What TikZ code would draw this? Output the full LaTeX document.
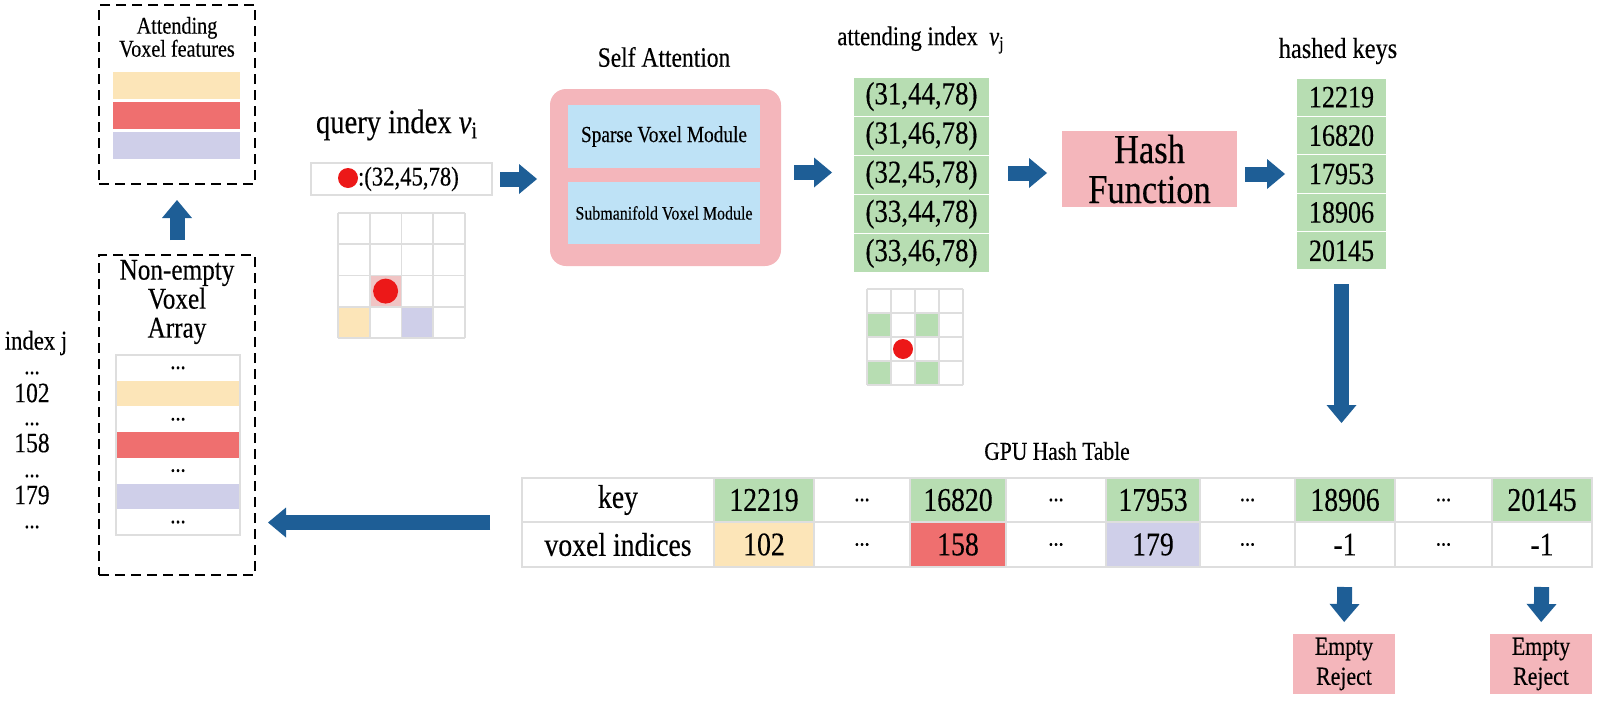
\documentclass[tikz,border=0pt]{standalone}
\usepackage{fontspec}
\setmainfont[FakeStretch=0.84,FakeBold=0.3]{Liberation Serif}
\usetikzlibrary{arrows.meta,calc,fit}
\definecolor{arrowblue}{RGB}{30,94,150}
\definecolor{vgreen}{RGB}{183,221,178}
\definecolor{vpink}{RGB}{244,182,187}
\definecolor{vblue}{RGB}{190,226,246}
\definecolor{vyellow}{RGB}{252,229,184}
\definecolor{vred}{RGB}{239,111,111}
\definecolor{vpurple}{RGB}{207,207,233}
\definecolor{gridgray}{RGB}{222,222,222}
\definecolor{dotred}{RGB}{236,24,24}
\definecolor{cellpink}{RGB}{240,196,196}
\newcommand\myfs[2]{\fontsize{#1}{#2}\selectfont}
\newcommand\tdots{{\myfs{9}{9}\textbf{…}}}
% \rbox[options]{name}{x1}{y1}{x2}{y2}{text}: rectangle node given by its corners (pixel units)
\newcommand\rbox[7][]{%
  \pgfmathsetmacro\rbcx{(#3+#5)/2}\pgfmathsetmacro\rbcy{(#4+#6)/2}%
  \pgfmathsetmacro\rbw{(#5-#3)*0.5}\pgfmathsetmacro\rbh{(#6-#4)*0.5}%
  \node[box,minimum width=\rbw pt,minimum height=\rbh pt,#1] (#2) at (\rbcx,\rbcy) {#7};}
\begin{document}
\begin{tikzpicture}[x=0.5pt,y=-0.5pt,
  box/.style={inner sep=0pt,outer sep=0pt},
  dashbox/.style={draw=black,line width=0.8pt,dash pattern=on 5pt off 3pt},
  gcell/.style={fill=vgreen,draw=white,line width=0.6pt},
  tcell/.style={draw=gridgray,line width=0.6pt,fill=#1},
  dot/.style={circle,fill=dotred,inner sep=0pt,minimum size=#1},
  gridline/.style={draw=gridgray,line width=0.8pt},
  blockarrow/.style={draw=arrowblue,line width=7.5pt,-{Triangle[length=9pt,width=15pt,line width=0pt]}},
  lbl/.style={box,align=center},
]
\useasboundingbox (0,0) rectangle (1600,702);

% ---------- Attending voxel features ----------
\rbox[dashbox]{attbox}{99}{5}{255}{184}{}
\node[lbl,font=\myfs{12}{11.5}] (atttitle) at (177,37) {Attending\\Voxel features};
\rbox[fill=vyellow]{attY}{113}{72}{240}{99}{}
\rbox[fill=vred]{attR}{113}{102}{240}{129}{}
\rbox[fill=vpurple]{attP}{113}{132}{240}{159}{}

% ---------- Non-empty voxel array ----------
\rbox[dashbox]{nebox}{99}{255}{255}{575}{}
\node[lbl,font=\myfs{15}{14.5}] (netitle) at (177,302) {Non-empty\\Voxel\\Array};
\foreach \i/\c/\t [evaluate=\i as \ya using 355+25.7*\i, evaluate=\i as \yb using 380.7+25.7*\i] in
  {0/white/\tdots,1/vyellow/{},2/white/\tdots,3/vred/{},4/white/\tdots,5/vpurple/{},6/white/\tdots}
  {\rbox[fill=\c]{ne\i}{116}{\ya}{240}{\yb}{\t}}
\rbox[draw=gridgray,line width=0.6pt]{nearr}{116}{355}{240}{535}{}

% index labels
\node[lbl,font=\myfs{13.5}{14}] (idxj) at (36,343) {index j};
\node[lbl] (ld0) at (32,373) {\tdots};
\node[lbl,font=\myfs{14}{14}] (l102) at (32,393) {102};
\node[lbl] (ld1) at (32,424) {\tdots};
\node[lbl,font=\myfs{14}{14}] (l158) at (32,443) {158};
\node[lbl] (ld2) at (32,476) {\tdots};
\node[lbl,font=\myfs{14}{14}] (l179) at (32,495) {179};
\node[lbl] (ld3) at (32,527) {\tdots};

% ---------- Query ----------
\node[lbl,font=\myfs{17}{17}] (qlabel) at (397,125) {query index \textit{ν}\textsubscript{i}};
\rbox[draw=gridgray,line width=0.8pt]{qbox}{311}{163}{492}{195}{}
\node[dot=10pt] (qdot) at (348,178) {};
\node[box,anchor=west,font=\myfs{13.5}{13.5}] (qtext) at (358,179) {:(32,45,78)};

\fill[vyellow] (338,306.75) rectangle (369.75,338);
\fill[vpurple] (401.5,306.75) rectangle (433.25,338);
\fill[cellpink] (369.75,275.5) rectangle (401.5,306.75);
\foreach \k in {0,...,4} {
  \draw[gridline] ({338+31.75*\k},213) -- ({338+31.75*\k},338);
  \draw[gridline] (338,{213+31.25*\k}) -- (465,{213+31.25*\k});
}
\node[dot=12.5pt] (gdot) at (385.6,291.1) {};

% ---------- Self attention ----------
\node[lbl,font=\myfs{14}{14}] (satitle) at (664,57) {Self Attention};
\rbox[fill=vpink,rounded corners=8pt]{sa}{550}{89}{781}{266}{}
\rbox[fill=vblue,font=\myfs{11.5}{12}]{sparse}{568}{105}{760}{168}{Sparse Voxel Module}
\rbox[fill=vblue,font=\myfs{9.5}{10}]{subm}{568}{182}{760}{244}{Submanifold Voxel Module}

% ---------- Attending index ----------
\node[lbl,font=\myfs{13.5}{14}] (attlabel) at (921,40) {attending index \ \textit{ν}\textsubscript{j}};
\foreach \i/\t [evaluate=\i as \ya using 77+39.2*\i, evaluate=\i as \yb using 116.2+39.2*\i] in
  {0/{(31,44,78)},1/{(31,46,78)},2/{(32,45,78)},3/{(33,44,78)},4/{(33,46,78)}}
  {\rbox[gcell,font=\myfs{16}{16}]{a\i}{853}{\ya}{990}{\yb}{\t}}
\node[box,fit=(a0)(a4)] (att) {};

\fill[vgreen] (867,313) rectangle (891,337);
\fill[vgreen] (915,313) rectangle (939,337);
\fill[vgreen] (867,361) rectangle (891,385);
\fill[vgreen] (915,361) rectangle (939,385);
\foreach \k in {0,...,4} {
  \draw[gridline] ({867+24*\k},289) -- ({867+24*\k},385);
  \draw[gridline] (867,{289+24*\k}) -- (963,{289+24*\k});
}
\node[dot=10pt] (adot) at (903,349) {};

% ---------- Hash function ----------
\rbox[fill=vpink,align=center,font=\myfs{20.5}{20}]{hash}{1062}{131}{1237}{207}{Hash\\Function}

% ---------- Hashed keys ----------
\node[lbl,font=\myfs{14.5}{15}] (hklabel) at (1338,51) {hashed keys};
\foreach \i/\t [evaluate=\i as \ya using 78+38.4*\i, evaluate=\i as \yb using 116.4+38.4*\i] in
  {0/12219,1/16820,2/17953,3/18906,4/20145}
  {\rbox[gcell,font=\myfs{15.5}{15.5}]{h\i}{1296}{\ya}{1387}{\yb}{\t}}
\node[box,fit=(h0)(h4)] (keys) {};

% ---------- GPU hash table ----------
\node[lbl,font=\myfs{12.8}{13}] (gpu) at (1057,451) {GPU Hash Table};
\node[box,fit={(522,478)(1592,567)}] (tbl) {};
\foreach \i/\a/\b/\kc/\kt/\vc/\vt in {
  0/522/714/white/key/white/voxel indices,
  1/714/814/vgreen/12219/vyellow/102,
  2/814/910/white/\tdots/white/\tdots,
  3/910/1006/vgreen/16820/vred/158,
  4/1006/1106/white/\tdots/white/\tdots,
  5/1106/1200/vgreen/17953/vpurple/179,
  6/1200/1295/white/\tdots/white/\tdots,
  7/1295/1395/vgreen/18906/white/-1,
  8/1395/1492/white/\tdots/white/\tdots,
  9/1492/1592/vgreen/20145/white/-1} {
  \rbox[tcell=\kc,font=\myfs{16.5}{16.5}]{k\i}{\a}{478}{\b}{522}{\kt}
  \rbox[tcell=\vc,font=\myfs{16.5}{16.5}]{v\i}{\a}{522}{\b}{567}{\vt}
}

% ---------- Empty reject ----------
\rbox[fill=vpink,align=center,font=\myfs{13}{15}]{e1}{1293}{634}{1395}{694}{Empty\\Reject}
\rbox[fill=vpink,align=center,font=\myfs{13}{15}]{e2}{1490}{634}{1592}{694}{Empty\\Reject}

% ---------- Arrows ----------
\draw[blockarrow,shorten <=4pt,shorten >=6.5pt] (qbox.east) -- (qbox.east -| sa.west);
\draw[blockarrow,shorten <=6.5pt,shorten >=10.5pt] ([yshift=2.5pt]sa.east) -- ([yshift=2.5pt]sa.east -| att.west);
\draw[blockarrow,shorten <=9pt,shorten >=7.5pt] ([yshift=1pt]att.east) -- ([yshift=1pt]att.east -| hash.west);
\draw[blockarrow,shorten <=4pt,shorten >=5.5pt] ([yshift=-2.5pt]hash.east) -- ([yshift=-2.5pt]hash.east -| keys.west);
\draw[blockarrow,shorten <=7pt,shorten >=27.5pt] (keys.south) -- (keys.south |- tbl.north);
\draw[blockarrow,shorten <=16pt,shorten >=6.5pt] (tbl.west) -- (tbl.west -| nebox.east);
\draw[blockarrow,shorten <=7.5pt,shorten >=8pt] (nebox.north) -- (attbox.south);
\draw[blockarrow,shorten <=10pt,shorten >=6pt] (v7.south) -- (e1.north);
\draw[blockarrow,shorten <=10pt,shorten >=6pt] (v9.south) -- (e2.north);
\end{tikzpicture}
\end{document}
